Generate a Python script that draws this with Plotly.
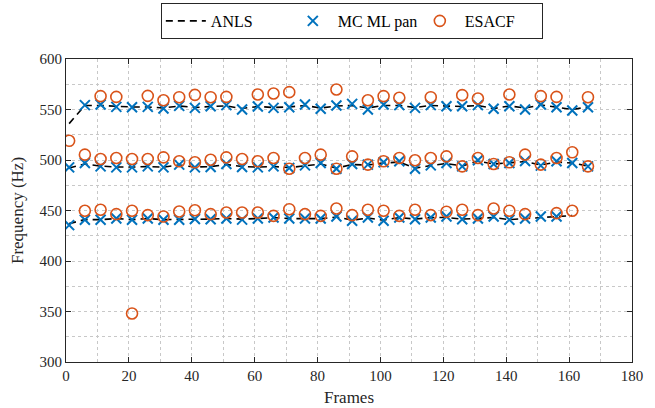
import plotly.graph_objects as go

frames = [1, 6, 11, 16, 21, 26, 31, 36, 41, 46, 51, 56, 61, 66, 71, 76, 81,
          86, 91, 96, 101, 106, 111, 116, 121, 126, 131, 136, 141, 146, 151, 156, 161, 166]

anls_h1 = [437, 441, 441, 442, 441, 442, 441, 441, 441.5, 441.5, 442, 441.5, 442, 443, 442, 442, 442,
           443.5, 440.5, 442.5, 440.5, 443, 441.5, 443, 443, 441.5, 442, 443, 441, 442, 443.5, 444, 445, None]
anls_h2 = [492, 496, 494, 493, 493, 493.5, 493, 495, 493, 493.5, 495.5, 493.5, 493, 493.5, 492.5, 494.5, 496,
           492, 495.5, 495, 497, 498, 492, 494.5, 496.5, 494, 499, 496, 497, 498.5, 495, 498, 497, 494]
anls_h3 = [536, 554, 554, 553, 552.5, 552.5, 551.5, 553.5, 552, 553, 553.5, 551, 553, 552, 552.5, 554, 551.5,
           553.5, 554, 551.5, 554, 554, 552, 554, 553.5, 553, 554, 551, 553.5, 551.5, 554.5, 552.5, 550, 552.5]

mc_h1 = [435.5, 440.8, 440.8, 442, 440.8, 442, 440.8, 440.8, 441.5, 441.4, 442, 441, 442, 443, 442, 442, 442,
         444, 439.8, 443, 439.8, 443, 441.4, 443, 444, 441.4, 442, 444, 440.8, 442, 444, 444, None, None]
mc_h2 = [492.7, 497, 493.7, 492.7, 492.7, 493.7, 492.7, 495.4, 492.7, 493, 496, 493, 492.7, 493.7, 492, 494.7, 497,
         491.4, 496, 495.4, 497.7, 498.7, 491.4, 494.7, 497, 493.7, 499.7, 496, 497, 499, 494.4, 498.7, 497, 493.7]
mc_h3 = [None, 554.3, 555, 552.6, 552.3, 552.6, 551, 553.6, 551.6, 553.3, 554.3, 550, 553, 551.6, 552.3, 555, 550.7,
         554, 555.6, 550, 555, 554.3, 551.6, 554.3, 553.3, 553.3, 554.3, 550.7, 553.3, 550, 555, 552.3, 549, 552.3]

es_h1 = [None, 449.7, 450.7, 446.4, 449.7, 445.4, 444, 449, 450.3, 446.4, 448, 448, 448, 444.7, 451.3, 446.4, 444.7,
         452, 445.4, 450.7, 449.7, 444.7, 450.7, 445.4, 448.7, 450.7, 445.4, 452, 449.7, 446.4, None, 447.4, 449.7, None]
es_h2 = [519, 505.3, 501, 502, 501, 501, 502.6, 498.7, 497.7, 500.3, 502.6, 501, 498.7, 502, 491.4, 502, 505.3,
         491.4, 503.6, 495.4, 498.7, 502, 499.7, 502, 503.6, 493.7, 502, 496, 497.7, 505.3, 495.4, 502, 507.6, 493.7]
es_h3 = [None, None, 563.2, 562.5, 348, 563.5, 559.2, 562.2, 564.5, 562.2, 562.5, None, 564.9, 565.8, 567.2, None, None,
         569.8, None, 559.2, 563.2, 561.6, None, 562.2, None, 564.2, 560.9, None, 564.9, None, 563.2, 562.5, None, 562.2]

x_ticks = [0, 20, 40, 60, 80, 100, 120, 140, 160, 180]
y_ticks = [300, 350, 400, 450, 500, 550, 600]

BLUE = "#0072BD"
ORANGE = "#D95319"
FONT = "Liberation Serif"

fig = go.Figure()
for i, a in enumerate([anls_h1, anls_h2, anls_h3]):
    fig.add_trace(go.Scatter(x=frames, y=a, mode="lines", name="ANLS", legendgroup="anls",
                             showlegend=(i == 0), connectgaps=False,
                             line=dict(color="black", width=1.6, dash="7px,5px")))
for i, a in enumerate([mc_h1, mc_h2, mc_h3]):
    fig.add_trace(go.Scatter(x=frames, y=a, mode="markers", name="MC ML pan", legendgroup="mc",
                             showlegend=(i == 0),
                             marker=dict(symbol="x-thin-open", size=10, color=BLUE,
                                         line=dict(color=BLUE, width=2))))
for i, a in enumerate([es_h1, es_h2, es_h3]):
    fig.add_trace(go.Scatter(x=frames, y=a, mode="markers", name="ESACF", legendgroup="es",
                             showlegend=(i == 0),
                             marker=dict(symbol="circle-open", size=11, color=ORANGE,
                                         line=dict(color=ORANGE, width=1.6))))

axis_common = dict(showline=True, linecolor="#262626", linewidth=1, mirror="ticks",
                   ticks="inside", ticklen=5, tickcolor="#262626", zeroline=False,
                   showgrid=True, gridcolor="#c8c8c8", griddash="dot", gridwidth=1,
                   tickfont=dict(family=FONT, size=15, color="#262626"))

fig.update_xaxes(range=[0, 180], tickvals=x_ticks,
                 minor=dict(dtick=10, showgrid=True, gridcolor="#c8c8c8", griddash="dot", ticks=""),
                 title=dict(text="Frames", font=dict(family=FONT, size=17, color="#262626"), standoff=8),
                 **axis_common)
fig.update_yaxes(range=[300, 600], tickvals=y_ticks,
                 minor=dict(dtick=25, showgrid=True, gridcolor="#c8c8c8", griddash="dot", ticks=""),
                 title=dict(text="Frequency (Hz)", font=dict(family=FONT, size=17, color="#262626"), standoff=11),
                 **axis_common)

fig.update_layout(
    width=655, height=408,
    margin=dict(l=66, r=23, t=59, b=46, autoexpand=False),
    plot_bgcolor="white", paper_bgcolor="white",
    font=dict(family=FONT, size=15, color="black"),
    legend=dict(orientation="h", x=0.505, xanchor="center", y=1.185, yanchor="top",
                bordercolor="#262626", borderwidth=1, bgcolor="white",
                font=dict(family=FONT, size=16, color="black"),
                itemwidth=40, tracegroupgap=0, entrywidth=72, entrywidthmode="pixels"),
)

fig.write_html("out.html", config={"displayModeBar": False},
               post_script="document.body.style.margin='0';document.body.style.overflow='hidden';")
